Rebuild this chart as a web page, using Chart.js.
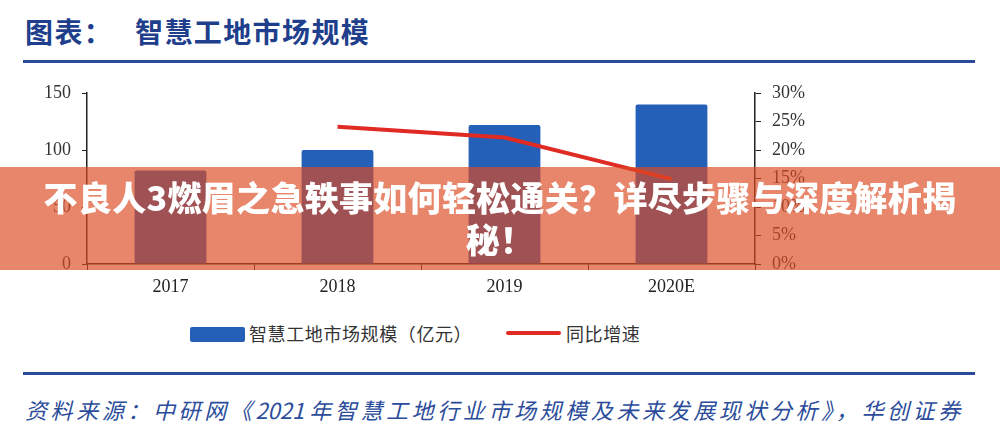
<!DOCTYPE html>
<html>
<head>
<meta charset="utf-8">
<script src="https://cdn.jsdelivr.net/npm/chart.js@4/dist/chart.umd.min.js"></script>
<style>
  html, body { margin: 0; padding: 0; background: #fff; }
  body { width: 1000px; height: 439px; position: relative; overflow: hidden; font-family: "Noto Sans CJK SC", sans-serif; }
  .title { position: absolute; top: 11px; font-size: 28px; letter-spacing: 1.4px; font-weight: bold; color: #1f3f8c; white-space: pre; }
  .rule { position: absolute; left: 23px; width: 952px; height: 3px; background: #2b4c9a; }
  #wrap { position: absolute; left: 0; top: 70px; width: 1000px; height: 240px; }
  .legend { position: absolute; top: 320px; font-size: 18px; letter-spacing: 0.6px; color: #333; white-space: nowrap; }
  .src { position: absolute; left: 25px; top: 393px; font-size: 22px; letter-spacing: 3.6px; font-style: italic; color: #2b4c9a; white-space: pre; }
  .src .num { letter-spacing: 0; }
  .banner { position: absolute; left: 0; top: 167px; width: 1000px; height: 103px; background: rgba(221, 75, 35, 0.67);
            color: #fff; font-weight: 900; font-size: 34px; letter-spacing: 0.3px; text-align: center; line-height: 42px; padding-top: 9px; box-sizing: border-box; }
</style>
</head>
<body>
<div class="title" style="left:25px">图表：</div>
<div class="title" style="left:135px">智慧工地市场规模</div>
<div class="rule" style="top:60px"></div>
<div id="wrap"><canvas id="chart"></canvas></div>
<div id="legend"></div>
<div class="rule" style="top:372px"></div>
<div class="src">资料来源：中研网《<span class="num">2021 </span>年智慧工地行业市场规模及未来发展现状分析》，华创证券</div>
<div class="banner">不良人3燃眉之急轶事如何轻松通关？详尽步骤与深度解析揭<br>秘！</div>
<script>
var years = ['2017', '2018', '2019', '2020E'];
var marketSize = [82, 100, 122, 140];        // 亿元
var growthRate = [null, 24.1, 22.2, 14.9];   // %
var sizeLabel = '智慧工地市场规模（亿元）';
var growthLabel = '同比增速';

var blue = '#2460b8', red = '#e02a24';

var tickFont = { family: '"Liberation Serif", serif', size: 18 };

new Chart(document.getElementById('chart'), {
  type: 'bar',
  data: {
    labels: years,
    datasets: [
      {
        type: 'line',
        label: growthLabel,
        data: growthRate,
        yAxisID: 'y1',
        borderColor: red,
        borderWidth: 4,
        pointRadius: 0,
        tension: 0,
        order: 0
      },
      {
        label: sizeLabel,
        data: marketSize,
        yAxisID: 'y',
        backgroundColor: blue,
        barPercentage: 0.43,
        categoryPercentage: 1,
        borderRadius: 2,
        order: 1
      }
    ]
  },
  options: {
    responsive: true,
    maintainAspectRatio: false,
    animation: false,
    layout: { padding: { top: 23, left: 0, right: 0, bottom: 0 } },
    plugins: { legend: { display: false }, tooltip: { enabled: false } },
    scales: {
      x: {
        grid: { drawOnChartArea: false, tickLength: 6, color: '#222', offset: true },
        border: { color: '#222', width: 1.5 },
        ticks: { font: tickFont, color: '#222', padding: 6 },
        afterFit: function(s) { s.height = 46; }
      },
      y: {
        position: 'left',
        min: 0, max: 150,
        ticks: { stepSize: 50, font: tickFont, color: '#333', padding: 11 },
        grid: { drawOnChartArea: false, tickLength: 5, color: '#222' },
        border: { color: '#222', width: 1.5 },
        afterFit: function(s) { s.width = 87; }
      },
      y1: {
        position: 'right',
        min: 0, max: 30,
        ticks: { stepSize: 5, font: tickFont, color: '#333', padding: 11,
                 callback: function(v) { return v + '%'; } },
        grid: { drawOnChartArea: false, tickLength: 6, color: '#222' },
        border: { color: '#222', width: 1.5 },
        afterFit: function(s) { s.width = 245; }
      }
    }
  }
});

// legend built from the dataset labels
var lg = document.getElementById('legend');
lg.innerHTML =
  '<div style="position:absolute;left:190px;top:327px;width:55px;height:15px;background:' + blue + ';border-radius:2px"></div>' +
  '<div class="legend" style="left:249px">' + sizeLabel + '</div>' +
  '<div style="position:absolute;left:506px;top:331px;width:55px;height:4px;background:' + red + ';border-radius:2px"></div>' +
  '<div class="legend" style="left:566px">' + growthLabel + '</div>';
</script>
</body>
</html>
